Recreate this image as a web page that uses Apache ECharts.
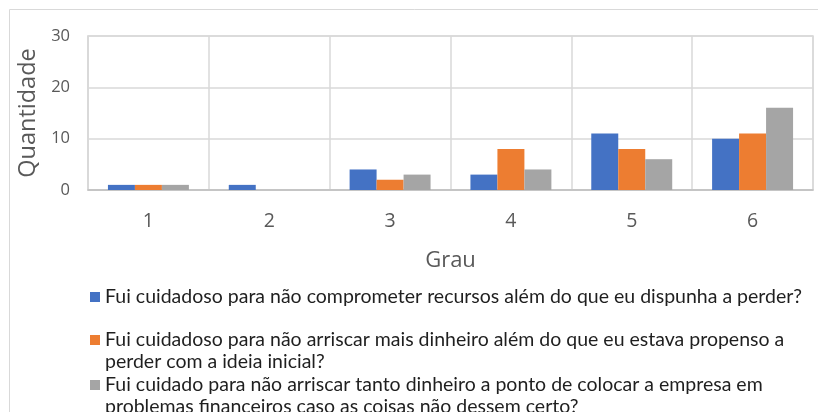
<!DOCTYPE html>
<html>
<head>
<meta charset="utf-8">
<script src="https://cdn.jsdelivr.net/npm/echarts@6/dist/echarts.min.js"></script>
<style>
  html, body { margin: 0; padding: 0; background: #fff; }
  #chart { width: 818px; height: 412px; }
</style>
</head>
<body>
<div id="chart"></div>
<script>
const categories = ['1', '2', '3', '4', '5', '6']
const seriesNames = [
  'Fui cuidadoso para não comprometer recursos além do que eu dispunha a perder?',
  'Fui cuidadoso para não arriscar mais dinheiro além do que eu estava propenso a',
  'Fui cuidado para não arriscar tanto dinheiro a ponto de colocar a empresa em'
]
const secondLines = [
  '',
  'perder com a ideia inicial?',
  'problemas financeiros caso as coisas não dessem certo?'
]
const valuesA = [1, 1, 4, 3, 11, 10]
const valuesB = [1, 0, 2, 8, 8, 11]
const valuesC = [1, 0, 3, 4, 6, 16]
const colors = ['#4472C4', '#ED7D31', '#A5A5A5']

const legendFont = 'Lato, "Open Sans", sans-serif'
const axisFont = '"Open Sans", Roboto, sans-serif'
const legendTops = [286, 329, 374]

const chart = echarts.init(document.getElementById('chart'))

const legends = seriesNames.map((name, i) => ({
  data: [name],
  left: 90,
  top: legendTops[i],
  icon: 'rect',
  itemWidth: 10,
  itemHeight: 10,
  itemGap: 0,
  padding: 0,
  selectedMode: false,
  textStyle: { fontFamily: legendFont, fontSize: 19.5, color: '#1f1f1f', lineHeight: 22 }
}))

const graphics = [
  {
    type: 'rect',
    shape: { x: 9.5, y: 9.5, width: 900, height: 500 },
    style: { fill: 'none', stroke: '#d9d9d9', lineWidth: 1 },
    silent: true
  }
]
secondLines.forEach((t, i) => {
  if (!t) return
  graphics.push({
    type: 'text',
    left: 105,
    top: legendTops[i] + 22,
    style: { text: t, fontFamily: legendFont, fontSize: 19.5, fill: '#1f1f1f', lineHeight: 22 }
  })
})

const makeSeries = (name, data, i) => ({
  name: name,
  type: 'bar',
  data: data,
  barGap: '0%',
  barCategoryGap: '33%',
  itemStyle: { color: colors[i] }
})

chart.setOption({
  animation: false,
  color: colors,
  legend: legends,
  graphic: graphics,
  grid: {
    left: 88,
    right: 5,
    top: 36,
    bottom: 222,
    show: true,
    borderColor: '#d9d9d9',
    borderWidth: 1.5
  },
  xAxis: {
    type: 'category',
    data: categories,
    name: 'Grau',
    nameLocation: 'middle',
    nameGap: 60,
    nameTextStyle: { fontFamily: axisFont, fontSize: 22, color: '#595959' },
    axisLine: { lineStyle: { color: '#bfbfbf', width: 1.5 } },
    axisTick: { show: false },
    axisLabel: { fontFamily: axisFont, fontSize: 19.5, color: '#595959', margin: 21 },
    splitLine: { show: true, lineStyle: { color: '#d9d9d9', width: 1.5 } }
  },
  yAxis: {
    type: 'value',
    min: 0,
    max: 30,
    interval: 10,
    name: 'Quantidade',
    nameLocation: 'middle',
    nameGap: 48,
    nameTextStyle: { fontFamily: axisFont, fontSize: 23.5, color: '#595959' },
    axisLine: { show: true, lineStyle: { color: '#d9d9d9', width: 1.5 } },
    axisLabel: { fontFamily: axisFont, fontSize: 16.5, color: '#595959', margin: 18 },
    splitLine: { lineStyle: { color: '#d9d9d9', width: 1.5 } }
  },
  series: [
    makeSeries(seriesNames[0], valuesA, 0),
    makeSeries(seriesNames[1], valuesB, 1),
    makeSeries(seriesNames[2], valuesC, 2)
  ]
})
</script>
</body>
</html>
